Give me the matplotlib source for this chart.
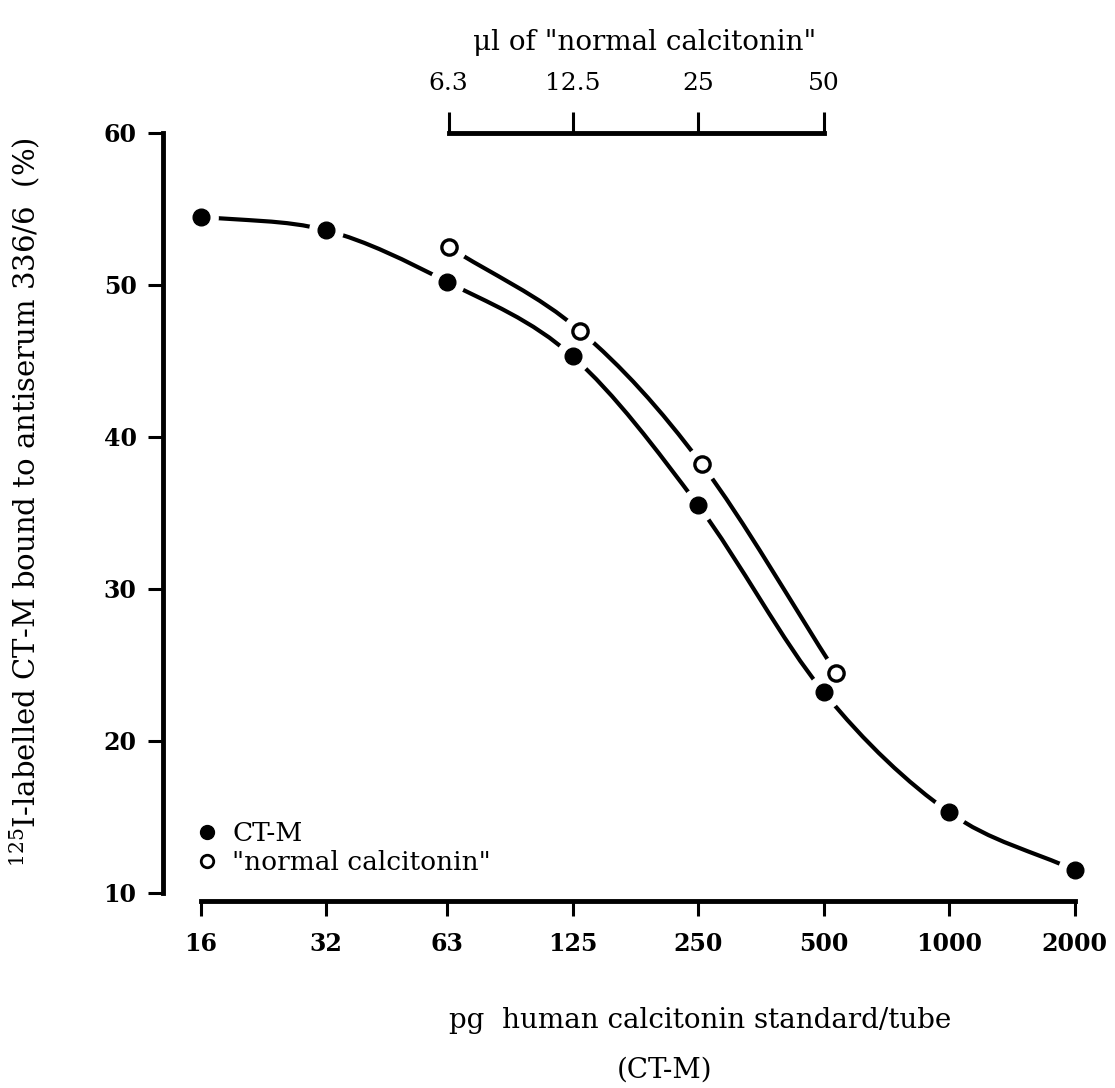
import numpy as np
import matplotlib.pyplot as plt
from matplotlib.path import Path
from matplotlib.patches import PathPatch
from matplotlib.lines import Line2D

plt.rcParams['font.family'] = 'DejaVu Serif'
plt.rcParams['mathtext.fontset'] = 'dejavuserif'

# CT-M standard: pg per tube vs % bound
dose_pg = [16, 32, 62.5, 125, 250, 500, 1000, 2000]
ctm_bound = [54.5, 53.6, 50.2, 45.3, 35.5, 23.2, 15.3, 11.5]

# "normal calcitonin": ul per tube vs % bound
normal_ul = [6.3, 13.0, 25.5, 53.5]
normal_bound = [52.5, 47.0, 38.2, 24.5]

pg_ticks = [16, 32, 62.5, 125, 250, 500, 1000, 2000]
pg_labels = ['16', '32', '63', '125', '250', '500', '1000', '2000']
ul_ticks = [6.3, 12.5, 25, 50]
ul_labels = ['6.3', '12.5', '25', '50']
y_ticks = [10, 20, 30, 40, 50, 60]

UL_TO_PG = 10.0


def smooth_path(xs, ys):
    # Catmull-Rom through the points in (log2 x, y), written as cubic Beziers
    u = np.log2(np.asarray(xs, float))
    y = np.asarray(ys, float)
    p = np.column_stack([u, y])
    n = len(p)
    m = np.zeros_like(p)
    for i in range(n):
        a = p[max(i - 1, 0)]
        b = p[min(i + 1, n - 1)]
        m[i] = (b - a) / (2.0 if 0 < i < n - 1 else 1.0)
    verts = [p[0]]
    codes = [Path.MOVETO]
    for i in range(n - 1):
        verts += [p[i] + m[i] / 3, p[i + 1] - m[i + 1] / 3, p[i + 1]]
        codes += [Path.CURVE4] * 3
    verts = np.array(verts)
    verts[:, 0] = 2.0 ** verts[:, 0]
    return Path(verts, codes)


fig = plt.figure(figsize=(11.15, 10.88), dpi=100)
ax = fig.add_axes([163 / 1115, 1 - 901 / 1088, (1100 - 163) / 1115, (901 - 133) / 1088])
ax.set_xscale('log', base=2)
ax.set_xlim(13.0, 2300)
ax.set_ylim(9.47, 60)

normal_pg = [v * UL_TO_PG for v in normal_ul]

# curves
for xs, ys in [(dose_pg, ctm_bound), (normal_pg, normal_bound)]:
    ax.add_patch(PathPatch(smooth_path(xs, ys), fill=False, lw=3.0,
                           ec='black', capstyle='butt', zorder=2))

# white halos break the curves around each point
for xs, ys in [(dose_pg, ctm_bound), (normal_pg, normal_bound)]:
    ax.plot(xs, ys, 'o', ms=25, mfc='white', mec='none', zorder=3)

ax.plot(dose_pg, ctm_bound, 'o', ms=12, mfc='black', mec='black', zorder=4)
ax.plot(normal_pg, normal_bound, 'o', ms=11, mfc='white', mec='black',
        mew=2.4, zorder=4)

# spines
for s in ['top', 'right']:
    ax.spines[s].set_visible(False)
ax.spines['left'].set_linewidth(3.5)
ax.spines['bottom'].set_linewidth(3.5)
ax.spines['left'].set_bounds(10, 60)
ax.spines['bottom'].set_bounds(16, 2000)
ax.spines['left'].set_capstyle('projecting')
ax.spines['bottom'].set_capstyle('projecting')

ax.set_yticks(y_ticks)
ax.set_xticks(pg_ticks)
ax.set_xticklabels(pg_labels)
ax.xaxis.set_minor_locator(plt.NullLocator())
ax.tick_params(axis='y', direction='out', length=11, width=2.2, pad=8,
               labelsize=17)
ax.tick_params(axis='x', direction='out', length=11, width=2.2, pad=11,
               labelsize=17)
for lab in ax.get_xticklabels() + ax.get_yticklabels():
    lab.set_fontweight('bold')

# upper scale in ul of "normal calcitonin"
sec = ax.secondary_xaxis('top', functions=(lambda x: x / UL_TO_PG,
                                           lambda x: x * UL_TO_PG))
sec.set_xticks(ul_ticks)
sec.set_xticklabels(ul_labels)
sec.xaxis.set_minor_locator(plt.NullLocator())
sec.spines['top'].set_bounds(6.3, 50)
sec.spines['top'].set_linewidth(3.5)
sec.tick_params(axis='x', direction='out', length=15, width=2.2, pad=12,
                labelsize=18)

fig.text(645 / 1115, 1 - 42 / 1088, 'μl of "normal calcitonin"',
         ha='center', va='center', fontsize=20)

fig.text(25 / 1115, 1 - 502 / 1088,
         r'$^{125}$I-labelled CT-M bound to antiserum 336/6  (%)',
         rotation=90, ha='center', va='center', fontsize=21)

fig.text(700 / 1115, 1 - 1020 / 1088, 'pg  human calcitonin standard/tube',
         ha='center', va='center', fontsize=20)
fig.text(665 / 1115, 1 - 1070 / 1088, '(CT-M)',
         ha='center', va='center', fontsize=20)

handles = [
    Line2D([], [], ls='none', marker='o', ms=10, mfc='black', mec='black'),
    Line2D([], [], ls='none', marker='o', ms=9, mfc='white', mec='black', mew=2),
]
ax.legend(handles, ['CT-M', '"normal calcitonin"'], loc='upper left',
          bbox_to_anchor=(181 / 1115, 1 - 808 / 1088),
          bbox_transform=fig.transFigure, frameon=False, fontsize=19,
          handletextpad=0.45, labelspacing=0.15, handlelength=1.0,
          borderpad=0)

fig.savefig('out.png', dpi=100)
